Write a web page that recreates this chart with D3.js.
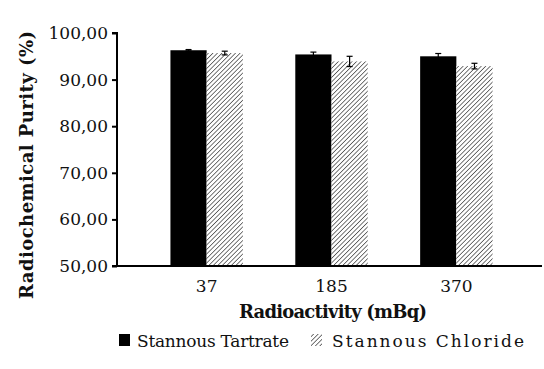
<!DOCTYPE html>
<html>
<head>
<meta charset="utf-8">
<script src="https://cdn.jsdelivr.net/npm/d3@7"></script>
<style>
body{margin:0;background:#fff;}
svg text{font-family:"DejaVu Serif","Liberation Serif",serif;fill:#111;}
</style>
</head>
<body>
<script>
var categories = ["37", "185", "370"];
var seriesNames = ["Stannous Tartrate", "Stannous Chloride"];
var tartrate = [96.3, 95.4, 95.0];
var tartrateErr = [0.15, 0.5, 0.6];
var chloride = [95.7, 93.9, 92.9];
var chlorideErr = [0.4, 1.1, 0.6];
var yTicks = [50, 60, 70, 80, 90, 100];

var width = 544, height = 369;

var svg = d3.select("body").append("svg")
            .attr("width", width)
            .attr("height", height);

// hatch pattern
var defs = svg.append("defs");
var pat = defs.append("pattern")
              .attr("id", "hatch")
              .attr("patternUnits", "userSpaceOnUse")
              .attr("width", 3.2)
              .attr("height", 3.2)
              .attr("patternTransform", "rotate(45)");
pat.append("rect").attr("width", 3.2).attr("height", 3.2).style("fill", "#fff");
pat.append("line")
   .attr("x1", 0).attr("y1", 0).attr("x2", 0).attr("y2", 3.2)
   .style("stroke", "#555").style("stroke-width", 1.6);

var x0 = d3.scaleBand().domain(categories).range([118, 545]).padding(0.42);
var x1 = d3.scaleBand().domain([0, 1]).range([0, x0.bandwidth()]);
var y = d3.scaleLinear().domain([50, 100]).range([266, 33]);

var rows = categories.map(function(c, i){
  return [
    {cat: c, s: 0, v: tartrate[i], e: tartrateErr[i]},
    {cat: c, s: 1, v: chloride[i], e: chlorideErr[i]}
  ];
});

var groups = svg.selectAll("g.grp")
                .data(rows)
                .enter().append("g")
                .attr("class", "grp")
                .attr("transform", function(d, i){ return "translate(" + x0(categories[i]) + ",0)"; });

groups.selectAll("rect")
      .data(function(d){ return d; })
      .enter().append("rect")
      .attr("x", function(d){ return x1(d.s); })
      .attr("y", function(d){ return y(d.v); })
      .attr("width", x1.bandwidth())
      .attr("height", function(d){ return y(50) - y(d.v); })
      .style("fill", function(d){ return d.s == 0 ? "#000" : "url(#hatch)"; });

// error bars
var eb = groups.selectAll("g.err")
               .data(function(d){ return d; })
               .enter().append("g")
               .attr("class", "err")
               .style("stroke", "#000")
               .style("stroke-width", 1.2);
eb.append("line")
  .attr("x1", function(d){ return x1(d.s) + x1.bandwidth() / 2; })
  .attr("x2", function(d){ return x1(d.s) + x1.bandwidth() / 2; })
  .attr("y1", function(d){ return y(d.v + d.e); })
  .attr("y2", function(d){ return y(d.v - d.e); });
eb.selectAll("line.cap")
  .data(function(d){ return [d.v + d.e, d.v - d.e].map(function(t){ return {s: d.s, t: t}; }); })
  .enter().append("line")
  .attr("class", "cap")
  .attr("x1", function(d){ return x1(d.s) + x1.bandwidth() / 2 - 3; })
  .attr("x2", function(d){ return x1(d.s) + x1.bandwidth() / 2 + 3; })
  .attr("y1", function(d){ return y(d.t); })
  .attr("y2", function(d){ return y(d.t); });

// y axis
var yAxis = svg.append("g")
               .attr("transform", "translate(117,0)")
               .call(d3.axisLeft(y).tickValues(yTicks).tickSize(5).tickPadding(4)
                     .tickFormat(function(d){ return d3.format(".2f")(d).replace(".", ","); }));
yAxis.attr("font-family", null).attr("font-size", null);
yAxis.select(".domain").attr("d", "M-5," + y(100) + "H0V" + y(50) + "H-5");
yAxis.selectAll("path,line").style("stroke", "#000").style("stroke-width", 2);
yAxis.selectAll("text").style("font-size", "17px");

// x axis
var xAxis = svg.append("g")
               .attr("transform", "translate(0," + y(50) + ")")
               .call(d3.axisBottom(x0).tickSize(0).tickPadding(14));
xAxis.attr("font-family", null).attr("font-size", null);
xAxis.select(".domain").attr("d", "M117,0H542");
xAxis.selectAll("path").style("stroke", "#000").style("stroke-width", 2);
xAxis.selectAll("text").style("font-size", "17px");

// titles
svg.append("text")
   .attr("x", 333).attr("y", 318)
   .attr("text-anchor", "middle")
   .attr("textLength", 188)
   .style("font-size", "18px").style("font-weight", "bold")
   .text("Radioactivity (mBq)");

svg.append("text")
   .attr("transform", "translate(33,165) rotate(-90)")
   .attr("text-anchor", "middle")
   .attr("textLength", 268)
   .style("font-size", "18px").style("font-weight", "bold")
   .text("Radiochemical Purity (%)");

// legend
var legend = svg.append("g");
legend.append("rect").attr("x", 119).attr("y", 334).attr("width", 11).attr("height", 12).style("fill", "#000");
legend.append("text").attr("x", 137).attr("y", 347).attr("textLength", 152).style("font-size", "17px").text(seriesNames[0]);
legend.append("rect").attr("x", 311).attr("y", 334).attr("width", 11).attr("height", 12).style("fill", "url(#hatch)");
legend.append("text").attr("x", 332).attr("y", 347).attr("textLength", 192).style("font-size", "17px").text(seriesNames[1]);
</script>
</body>
</html>
